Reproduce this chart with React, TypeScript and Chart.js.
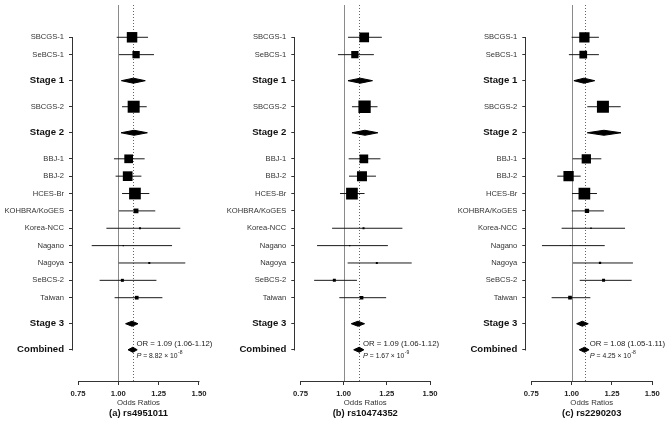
import React, { useEffect, useRef } from "react";
import { Chart, registerables } from "chart.js";

Chart.register(...registerables);

const FONT = "'Liberation Sans', Arial, Helvetica, sans-serif";

// ---------------- DATA ----------------
const rowLabels = [
  "SBCGS-1", "SeBCS-1", "Stage 1", "SBCGS-2", "Stage 2", "BBJ-1", "BBJ-2", "HCES-Br",
  "KOHBRA/KoGES", "Korea-NCC", "Nagano", "Nagoya", "SeBCS-2", "Taiwan", "Stage 3", "Combined",
];
const summaryLabels = ["Stage 1", "Stage 2", "Stage 3", "Combined"];

const xTickValues = [0.75, 1.0, 1.25, 1.5];
const referenceOR = 1.0;

// (a) rs4951011
const orA = [1.085, 1.11, 1.093, 1.095, 1.097, 1.064, 1.058, 1.103, 1.11, 1.134, 1.031, 1.192, 1.025, 1.114, 1.085, 1.09];
const loA = [0.99, 1.004, 1.019, 1.023, 1.017, 0.973, 0.983, 1.023, 1.004, 0.926, 0.835, 1.002, 0.884, 0.977, 1.045, 1.06];
const hiA = [1.184, 1.221, 1.167, 1.176, 1.18, 1.163, 1.143, 1.192, 1.229, 1.384, 1.333, 1.415, 1.236, 1.273, 1.122, 1.117];
const weightA = [10.5, 7.3, null, 12, null, 8.7, 9.7, 11.7, 4.7, 2, 1.3, 2, 3, 3.7, null, null];

// (b) rs10474352
const orB = [1.119, 1.065, 1.096, 1.121, 1.123, 1.117, 1.106, 1.048, null, 1.115, 1.035, 1.192, 0.946, 1.104, 1.083, 1.09];
const loB = [1.025, 0.967, 1.025, 1.048, 1.048, 1.029, 1.031, 0.979, null, 0.933, 0.846, 1.023, 0.829, 0.975, 1.044, 1.058];
const hiB = [1.221, 1.175, 1.167, 1.196, 1.198, 1.213, 1.187, 1.121, null, 1.34, 1.256, 1.394, 1.077, 1.246, 1.121, 1.117];
const weightB = [9.7, 7.3, null, 12.3, null, 8.7, 10, 11.7, null, 2, 1.3, 2, 3, 3.5, null, null];

// (c) rs2290203
const orC = [1.079, 1.072, 1.076, 1.194, 1.2, 1.091, 0.981, 1.079, 1.095, 1.12, 0.992, 1.176, 1.198, 0.99, 1.066, 1.08];
const loC = [1.0, 0.983, 1.014, 1.097, 1.097, 1.006, 0.911, 1.002, 1.0, 0.938, 0.816, 1.008, 1.05, 0.876, 1.031, 1.047];
const hiC = [1.169, 1.169, 1.143, 1.304, 1.306, 1.184, 1.056, 1.157, 1.2, 1.331, 1.205, 1.38, 1.372, 1.116, 1.103, 1.108];
const weightC = [10.3, 7.7, null, 12, null, 9.3, 10.3, 11.7, 4.3, 1.5, 1, 2.3, 3, 3.7, null, null];

const captions = ["(a) rs4951011", "(b) rs10474352", "(c) rs2290203"];
const orTexts = ["OR = 1.09 (1.06-1.12)", "OR = 1.09 (1.06-1.12)", "OR = 1.08 (1.05-1.11)"];
const pMantissas = ["8.82", "1.67", "4.25"];
const pExponents = ["-8", "-9", "-8"];
const combinedOR = [1.09, 1.09, 1.08];
const annotationOR = 1.112;

// ---------------- LAYOUT (not data) ----------------
const PANELS = [
  { left: 0, width: 222, yWidth: 73, padRight: 18, xMin: 0.719, xMax: 1.531 },
  { left: 222, width: 222, yWidth: 73.3, padRight: 8.8, xMin: 0.72, xMax: 1.53 },
  { left: 444, width: 221, yWidth: 82.3, padRight: 7.7, xMin: 0.719, xMax: 1.531 },
];
const Y_MIN = -1.86;
const Y_MAX = 19.8;
const DIAMOND_HALF = 0.145;

const isSummary = (l: string) => summaryLabels.includes(l);

function rowPositions(): number[] {
  const pos: number[] = [];
  rowLabels.forEach((l, i) => {
    if (i === 0) pos.push(0);
    else pos.push(pos[i - 1] + (isSummary(l) || isSummary(rowLabels[i - 1]) ? 1.5 : 1));
  });
  return pos;
}

const decorPlugin = {
  id: "forestDecor",
  beforeDatasetsDraw(chart: any, _a: any, opts: any) {
    const { ctx, chartArea, scales } = chart;
    const x = scales.x, y = scales.y;
    ctx.save();
    // reference line at OR = 1
    const xr = Math.round(x.getPixelForValue(referenceOR)) + 0.5;
    ctx.strokeStyle = "#8a8a8a";
    ctx.lineWidth = 1;
    ctx.beginPath();
    ctx.moveTo(xr, chartArea.top);
    ctx.lineTo(xr, chartArea.bottom);
    ctx.stroke();
    // dotted line at combined OR
    const xc = Math.round(x.getPixelForValue(opts.combined)) + 0.5;
    ctx.strokeStyle = "#666";
    ctx.setLineDash([1, 2]);
    ctx.beginPath();
    ctx.moveTo(xc, chartArea.top);
    ctx.lineTo(xc, chartArea.bottom);
    ctx.stroke();
    ctx.setLineDash([]);
    // y axis line spanning the rows
    const rows = opts.rows as number[];
    const yl = Math.round(chartArea.left) - 0.5;
    ctx.strokeStyle = "#333";
    ctx.beginPath();
    ctx.moveTo(yl, Math.round(y.getPixelForValue(rows[0])) + 0.5);
    ctx.lineTo(yl, Math.round(y.getPixelForValue(rows[rows.length - 1])) + 0.5);
    ctx.stroke();
    // x axis line spanning the ticks
    const yb = Math.round(chartArea.bottom) + 0.5;
    ctx.beginPath();
    ctx.moveTo(Math.round(x.getPixelForValue(xTickValues[0])) + 0.5, yb);
    ctx.lineTo(Math.round(x.getPixelForValue(xTickValues[xTickValues.length - 1])) + 0.5, yb);
    ctx.stroke();
    ctx.restore();
  },
  afterDatasetsDraw(chart: any, _a: any, opts: any) {
    const { ctx, scales } = chart;
    const x = scales.x, y = scales.y;
    ctx.save();
    ctx.fillStyle = "#222";
    ctx.textBaseline = "middle";
    ctx.textAlign = "left";
    const ax = x.getPixelForValue(annotationOR);
    ctx.font = `7.8px ${FONT}`;
    ctx.fillText(opts.orText, ax, y.getPixelForValue(opts.row - 0.36));
    const py = y.getPixelForValue(opts.row + 0.36);
    let px = ax;
    ctx.font = `italic 7.4px ${FONT}`;
    ctx.fillText("P", px, py);
    px += ctx.measureText("P").width;
    ctx.font = `6.8px ${FONT}`;
    const s = ` = ${opts.pMant} \u00d7 10`;
    ctx.fillText(s, px, py);
    px += ctx.measureText(s).width;
    ctx.font = `5px ${FONT}`;
    ctx.fillText(opts.pExp, px + 0.5, py - 3);
    ctx.restore();
  },
};

function buildConfig(idx: number) {
  const series = [
    [orA, loA, hiA, weightA],
    [orB, loB, hiB, weightB],
    [orC, loC, hiC, weightC],
  ][idx] as [Array<number | null>, Array<number | null>, Array<number | null>, Array<number | null>];
  const [or, lo, hi, w] = series;
  const geo = PANELS[idx];
  const rows = rowPositions();
  const datasets: any[] = [];

  rowLabels.forEach((l, i) => {
    if (or[i] == null || lo[i] == null || hi[i] == null) return;
    if (isSummary(l)) {
      datasets.push({
        type: "line",
        data: [
          { x: lo[i], y: rows[i] },
          { x: or[i], y: rows[i] - DIAMOND_HALF },
          { x: hi[i], y: rows[i] },
          { x: or[i], y: rows[i] + DIAMOND_HALF },
          { x: lo[i], y: rows[i] },
        ],
        borderColor: "#000",
        backgroundColor: "#000",
        borderWidth: 1,
        pointRadius: 0,
        tension: 0,
        fill: "shape",
        order: 0,
      });
    } else {
      datasets.push({
        type: "line",
        data: [
          { x: lo[i], y: rows[i] },
          { x: hi[i], y: rows[i] },
        ],
        borderColor: "#1a1a1a",
        borderWidth: 1,
        pointRadius: 0,
        fill: false,
        order: 2,
      });
    }
  });

  const boxIdx = rowLabels.map((_, i) => i).filter((i) => !isSummary(rowLabels[i]) && or[i] != null && w[i] != null);
  datasets.push({
    type: "scatter",
    data: boxIdx.map((i) => ({ x: or[i], y: rows[i] })),
    pointStyle: "rect",
    pointRadius: boxIdx.map((i) => (w[i] as number) / Math.SQRT2),
    backgroundColor: "#000",
    borderWidth: 0,
    order: 1,
  });

  return {
    type: "scatter",
    data: { datasets },
    plugins: [decorPlugin],
    options: {
      animation: false,
      responsive: false,
      events: [],
      layout: { autoPadding: false, padding: { left: 0, right: geo.padRight, top: 5, bottom: 0 } },
      scales: {
        x: {
          type: "linear",
          min: geo.xMin,
          max: geo.xMax,
          afterBuildTicks: (scale: any) => {
            scale.ticks = xTickValues.map((v) => ({ value: v }));
          },
          afterFit: (scale: any) => {
            scale.height = 26.7;
            scale.paddingLeft = 0;
            scale.paddingRight = 0;
          },
          border: { display: false },
          grid: { drawOnChartArea: false, drawTicks: true, tickLength: 4, color: "#333" },
          ticks: {
            autoSkip: false,
            maxRotation: 0,
            padding: 4,
            color: "#222",
            font: { family: FONT, size: 7.7, weight: "bold" },
            callback: (v: any) => Number(v).toFixed(2),
          },
          title: {
            display: true,
            text: "Odds Ratios",
            color: "#333",
            padding: 0,
            font: { family: FONT, size: 7.8 },
          },
        },
        y: {
          type: "linear",
          min: Y_MIN,
          max: Y_MAX,
          reverse: true,
          afterBuildTicks: (scale: any) => {
            scale.ticks = rows.map((v) => ({ value: v }));
          },
          afterFit: (scale: any) => {
            scale.width = geo.yWidth;
            scale.paddingTop = 0;
            scale.paddingBottom = 0;
          },
          border: { display: false },
          grid: { drawOnChartArea: false, drawTicks: true, tickLength: 4, color: "#333" },
          ticks: {
            autoSkip: false,
            padding: 5,
            callback: (_v: any, i: number) => rowLabels[i],
            color: (c: any) => (isSummary(rowLabels[c.index]) ? "#111" : "#333"),
            font: (c: any) =>
              isSummary(rowLabels[c.index])
                ? { family: FONT, size: 9.6, weight: "bold" }
                : { family: FONT, size: 7.6 },
          },
        },
      },
      plugins: {
        legend: { display: false },
        tooltip: { enabled: false },
        title: {
          display: true,
          text: captions[idx],
          position: "bottom",
          fullSize: false,
          color: "#111",
          padding: { top: 0, bottom: 7 },
          font: { family: FONT, size: 9.4, weight: "bold" },
        },
        forestDecor: {
          combined: combinedOR[idx],
          rows,
          row: rows[rows.length - 1],
          orText: orTexts[idx],
          pMant: pMantissas[idx],
          pExp: pExponents[idx],
        },
      },
    },
  };
}

function Panel({ idx }: { idx: number }) {
  const ref = useRef<HTMLCanvasElement | null>(null);
  useEffect(() => {
    if (!ref.current) return;
    const chart = new Chart(ref.current, buildConfig(idx) as any);
    return () => chart.destroy();
  }, [idx]);
  const g = PANELS[idx];
  return (
    <canvas
      ref={ref}
      width={g.width}
      height={426}
      style={{ position: "absolute", left: g.left, top: 0, width: g.width, height: 426, display: "block" }}
    />
  );
}

export default function App() {
  return (
    <div style={{ position: "fixed", left: 0, top: 0, width: 665, height: 426, background: "#fff", overflow: "hidden" }}>
      <Panel idx={0} />
      <Panel idx={1} />
      <Panel idx={2} />
    </div>
  );
}
